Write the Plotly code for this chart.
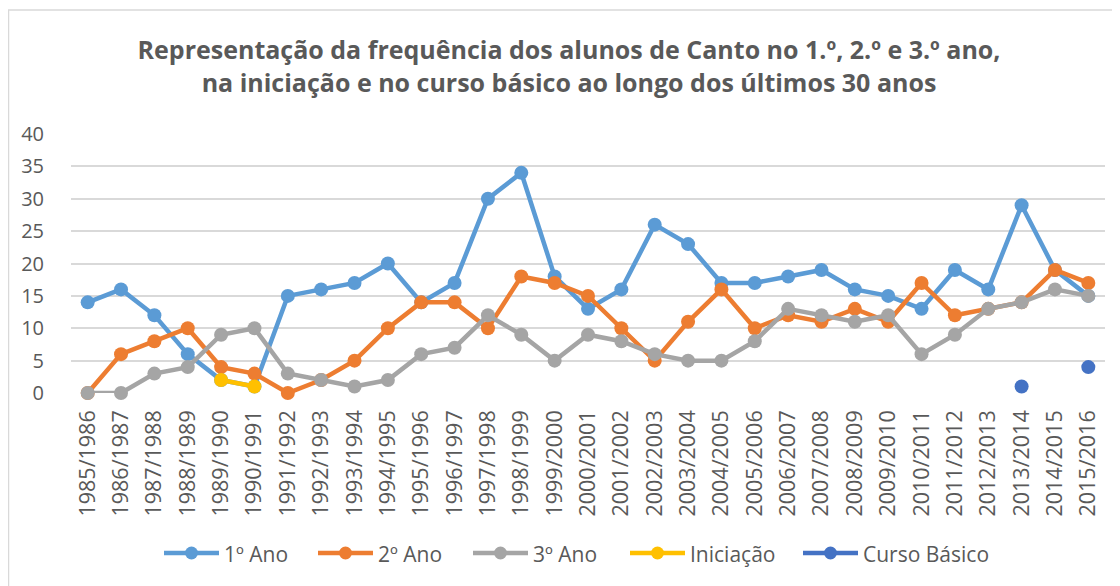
import plotly.graph_objects as go

categories = ["1985/1986", "1986/1987", "1987/1988", "1988/1989", "1989/1990", "1990/1991",
              "1991/1992", "1992/1993", "1993/1994", "1994/1995", "1995/1996", "1996/1997",
              "1997/1998", "1998/1999", "1999/2000", "2000/2001", "2001/2002", "2002/2003",
              "2003/2004", "2004/2005", "2005/2006", "2006/2007", "2007/2008", "2008/2009",
              "2009/2010", "2010/2011", "2011/2012", "2012/2013", "2013/2014", "2014/2015",
              "2015/2016"]

ano1 = [14, 16, 12, 6, 2, 1, 15, 16, 17, 20, 14, 17, 30, 34, 18, 13, 16, 26, 23, 17, 17,
        18, 19, 16, 15, 13, 19, 16, 29, 19, 15]
ano2 = [0, 6, 8, 10, 4, 3, 0, 2, 5, 10, 14, 14, 10, 18, 17, 15, 10, 5, 11, 16, 10,
        12, 11, 13, 11, 17, 12, 13, 14, 19, 17]
ano3 = [0, 0, 3, 4, 9, 10, 3, 2, 1, 2, 6, 7, 12, 9, 5, 9, 8, 6, 5, 5, 8,
        13, 12, 11, 12, 6, 9, 13, 14, 16, 15]
iniciacao = [None] * 4 + [2, 1] + [None] * 25
curso_basico = [None] * 28 + [1, None, 4]

series_names = ["1º Ano", "2º Ano", "3º Ano", "Iniciação", "Curso Básico"]
series_values = [ano1, ano2, ano3, iniciacao, curso_basico]
series_colors = ["#5B9BD5", "#ED7D31", "#A5A5A5", "#FFC000", "#4472C4"]

FONT = "Open Sans"
GRAY = "#595959"
GRID = "#D9D9D9"

# page offset (body margin) and figure size
OFF = 8
W, H = 1112, 578
# plot area in screenshot pixels: x 71..1105, y 134..393
L, R, T, B = 71 - OFF, W - (1105 - OFF), 134 - OFF, H - (393 - OFF)
pw, ph = W - L - R, H - T - B


def px_x(p):
    return (p - OFF - L) / pw


def px_y(p):
    return (H - B - (p - OFF)) / ph


fig = go.Figure()
for name, vals, color in zip(series_names, series_values, series_colors):
    fig.add_trace(go.Scatter(
        x=categories, y=vals, name=name, mode="lines+markers",
        line=dict(color=color, width=4.5),
        marker=dict(color=color, size=14),
        cliponaxis=False, showlegend=False,
    ))

# custom legend (symbol start positions in screenshot pixels)
legend_sym_x = [164, 318, 473, 630, 803]
LEG_Y = 553
shapes = [dict(
    type="rect", xref="paper", yref="paper",
    x0=px_x(8.5), x1=px_x(1140), y0=px_y(620), y1=px_y(10),
    line=dict(color=GRID, width=1.5), fillcolor="rgba(0,0,0,0)",
    layer="below",
)]
annotations = []
for name, color, sx in zip(series_names, series_colors, legend_sym_x):
    shapes.append(dict(type="line", xref="paper", yref="paper",
                       x0=px_x(sx), x1=px_x(sx + 55), y0=px_y(LEG_Y), y1=px_y(LEG_Y),
                       line=dict(color=color, width=4.5)))
    cx = sx + 27.5
    shapes.append(dict(type="circle", xref="paper", yref="paper",
                       x0=px_x(cx - 6.5), x1=px_x(cx + 6.5),
                       y0=px_y(LEG_Y + 6.5), y1=px_y(LEG_Y - 6.5),
                       line=dict(width=0), fillcolor=color))
    annotations.append(dict(text=name, xref="paper", yref="paper",
                            x=px_x(sx + 58), y=px_y(LEG_Y + 1), xanchor="left", yanchor="middle",
                            showarrow=False, font=dict(family=FONT, size=21, color=GRAY)))

fig.update_layout(
    width=W, height=H, autosize=False,
    margin=dict(l=L, r=R, t=T, b=B, autoexpand=False),
    paper_bgcolor="white", plot_bgcolor="white",
    font=dict(family=FONT, color=GRAY, size=18),
    title=dict(
        text="Representação da frequência dos alunos de Canto no 1.º, 2.º e 3.º ano,<br>na iniciação e no curso básico ao longo dos últimos 30 anos",
        x=(569 - OFF) / W, xref="container", xanchor="center",
        y=1 - (59 - OFF) / H, yref="container", yanchor="middle",
        font=dict(family=FONT, size=25, color=GRAY, weight="bold"),
    ),
    xaxis=dict(
        type="category", range=[-0.5, 30.5], tickangle=-90,
        showgrid=False, showline=False, zeroline=False,
        ticks="", ticklabelstandoff=12,
        tickfont=dict(size=21.5, color=GRAY, family=FONT),
        fixedrange=True,
    ),
    yaxis=dict(
        range=[0, 40], dtick=5, showgrid=True, gridcolor=GRID, gridwidth=1.5,
        zeroline=False, showline=False, ticks="", ticklabelstandoff=26,
        tickfont=dict(size=20, color=GRAY, family=FONT),
        fixedrange=True,
    ),
    showlegend=False,
    shapes=shapes,
    annotations=annotations,
)

fig.write_html("out.html")
